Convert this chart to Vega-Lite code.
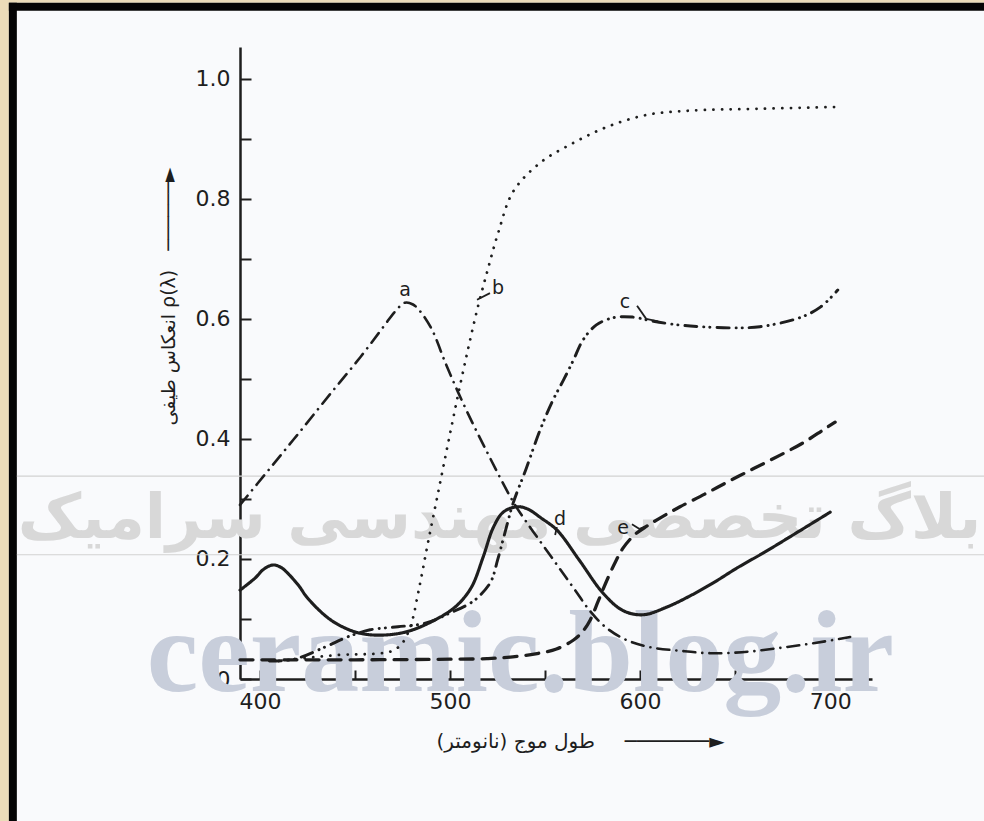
{
  "$schema": "https://vega.github.io/schema/vega-lite/v6.json",
  "width": 632,
  "height": 632,
  "autosize": "none",
  "padding": {"left": 240, "top": 47, "right": 112, "bottom": 142},
  "background": "#f9fafc",
  "config": {
    "view": {"stroke": null},
    "axis": {
      "grid": false,
      "domainColor": "#1e1e1e",
      "domainWidth": 2.5,
      "tickColor": "#1e1e1e",
      "tickWidth": 2,
      "labelColor": "#1e1e1e",
      "labelFont": "DejaVu Sans",
      "labelFontSize": 22,
      "labelFlush": false,
      "labelOverlap": false,
      "titleFont": "DejaVu Sans",
      "titleFontWeight": "normal",
      "titleColor": "#1e1e1e",
      "zindex": 1
    }
  },
  "datasets": {
    "curves": [
      {"curve": "a", "wavelength": 389.5, "reflectance": 0.29},
      {"curve": "a", "wavelength": 405, "reflectance": 0.35},
      {"curve": "a", "wavelength": 421, "reflectance": 0.412},
      {"curve": "a", "wavelength": 437, "reflectance": 0.475},
      {"curve": "a", "wavelength": 453, "reflectance": 0.537},
      {"curve": "a", "wavelength": 465, "reflectance": 0.587},
      {"curve": "a", "wavelength": 471, "reflectance": 0.612},
      {"curve": "a", "wavelength": 476.3, "reflectance": 0.627},
      {"curve": "a", "wavelength": 480.5, "reflectance": 0.624},
      {"curve": "a", "wavelength": 484.2, "reflectance": 0.613},
      {"curve": "a", "wavelength": 490.5, "reflectance": 0.582},
      {"curve": "a", "wavelength": 497.4, "reflectance": 0.528},
      {"curve": "a", "wavelength": 504.2, "reflectance": 0.478},
      {"curve": "a", "wavelength": 511.6, "reflectance": 0.428},
      {"curve": "a", "wavelength": 519.5, "reflectance": 0.378},
      {"curve": "a", "wavelength": 526.9, "reflectance": 0.332},
      {"curve": "a", "wavelength": 534.2, "reflectance": 0.29},
      {"curve": "a", "wavelength": 542.1, "reflectance": 0.253},
      {"curve": "a", "wavelength": 550, "reflectance": 0.218},
      {"curve": "a", "wavelength": 557.9, "reflectance": 0.183},
      {"curve": "a", "wavelength": 565.8, "reflectance": 0.148},
      {"curve": "a", "wavelength": 573.7, "reflectance": 0.113},
      {"curve": "a", "wavelength": 581.6, "reflectance": 0.087},
      {"curve": "a", "wavelength": 592.1, "reflectance": 0.066},
      {"curve": "a", "wavelength": 605.3, "reflectance": 0.053},
      {"curve": "a", "wavelength": 621, "reflectance": 0.047},
      {"curve": "a", "wavelength": 637, "reflectance": 0.043},
      {"curve": "a", "wavelength": 655, "reflectance": 0.045},
      {"curve": "a", "wavelength": 674, "reflectance": 0.052},
      {"curve": "a", "wavelength": 692, "reflectance": 0.06},
      {"curve": "a", "wavelength": 710.5, "reflectance": 0.07},

      {"curve": "b", "wavelength": 410, "reflectance": 0.03},
      {"curve": "b", "wavelength": 441, "reflectance": 0.04},
      {"curve": "b", "wavelength": 460, "reflectance": 0.042},
      {"curve": "b", "wavelength": 469, "reflectance": 0.046},
      {"curve": "b", "wavelength": 474.2, "reflectance": 0.057},
      {"curve": "b", "wavelength": 477.9, "reflectance": 0.077},
      {"curve": "b", "wavelength": 480.6, "reflectance": 0.103},
      {"curve": "b", "wavelength": 482.7, "reflectance": 0.135},
      {"curve": "b", "wavelength": 484.8, "reflectance": 0.168},
      {"curve": "b", "wavelength": 488.4, "reflectance": 0.227},
      {"curve": "b", "wavelength": 493.7, "reflectance": 0.31},
      {"curve": "b", "wavelength": 499, "reflectance": 0.393},
      {"curve": "b", "wavelength": 504.2, "reflectance": 0.473},
      {"curve": "b", "wavelength": 509.5, "reflectance": 0.55},
      {"curve": "b", "wavelength": 514.8, "reflectance": 0.622},
      {"curve": "b", "wavelength": 520.1, "reflectance": 0.685},
      {"curve": "b", "wavelength": 525.3, "reflectance": 0.743},
      {"curve": "b", "wavelength": 533.2, "reflectance": 0.812},
      {"curve": "b", "wavelength": 547.4, "reflectance": 0.86},
      {"curve": "b", "wavelength": 564.8, "reflectance": 0.893},
      {"curve": "b", "wavelength": 582.7, "reflectance": 0.92},
      {"curve": "b", "wavelength": 603.7, "reflectance": 0.94},
      {"curve": "b", "wavelength": 626.3, "reflectance": 0.947},
      {"curve": "b", "wavelength": 661.6, "reflectance": 0.95},
      {"curve": "b", "wavelength": 702.6, "reflectance": 0.953},

      {"curve": "c", "wavelength": 405, "reflectance": 0.03},
      {"curve": "c", "wavelength": 418, "reflectance": 0.033},
      {"curve": "c", "wavelength": 434, "reflectance": 0.053},
      {"curve": "c", "wavelength": 446, "reflectance": 0.07},
      {"curve": "c", "wavelength": 458, "reflectance": 0.082},
      {"curve": "c", "wavelength": 472.6, "reflectance": 0.087},
      {"curve": "c", "wavelength": 487, "reflectance": 0.093},
      {"curve": "c", "wavelength": 500, "reflectance": 0.11},
      {"curve": "c", "wavelength": 511, "reflectance": 0.127},
      {"curve": "c", "wavelength": 516, "reflectance": 0.14},
      {"curve": "c", "wavelength": 521.6, "reflectance": 0.163},
      {"curve": "c", "wavelength": 525, "reflectance": 0.198},
      {"curve": "c", "wavelength": 529, "reflectance": 0.245},
      {"curve": "c", "wavelength": 533.2, "reflectance": 0.293},
      {"curve": "c", "wavelength": 540, "reflectance": 0.35},
      {"curve": "c", "wavelength": 547.4, "reflectance": 0.415},
      {"curve": "c", "wavelength": 554.2, "reflectance": 0.465},
      {"curve": "c", "wavelength": 560, "reflectance": 0.5},
      {"curve": "c", "wavelength": 565, "reflectance": 0.532},
      {"curve": "c", "wavelength": 570, "reflectance": 0.565},
      {"curve": "c", "wavelength": 577, "reflectance": 0.59},
      {"curve": "c", "wavelength": 586, "reflectance": 0.602},
      {"curve": "c", "wavelength": 596, "reflectance": 0.603},
      {"curve": "c", "wavelength": 607, "reflectance": 0.596},
      {"curve": "c", "wavelength": 620, "reflectance": 0.59},
      {"curve": "c", "wavelength": 632, "reflectance": 0.587},
      {"curve": "c", "wavelength": 648, "reflectance": 0.585},
      {"curve": "c", "wavelength": 663, "reflectance": 0.587},
      {"curve": "c", "wavelength": 684, "reflectance": 0.602},
      {"curve": "c", "wavelength": 695, "reflectance": 0.62},
      {"curve": "c", "wavelength": 704, "reflectance": 0.648},

      {"curve": "d", "wavelength": 389.5, "reflectance": 0.148},
      {"curve": "d", "wavelength": 397.4, "reflectance": 0.168},
      {"curve": "d", "wavelength": 402, "reflectance": 0.183},
      {"curve": "d", "wavelength": 406.9, "reflectance": 0.19},
      {"curve": "d", "wavelength": 411, "reflectance": 0.186},
      {"curve": "d", "wavelength": 415, "reflectance": 0.175},
      {"curve": "d", "wavelength": 421, "reflectance": 0.153},
      {"curve": "d", "wavelength": 424, "reflectance": 0.139},
      {"curve": "d", "wavelength": 431, "reflectance": 0.115},
      {"curve": "d", "wavelength": 437.4, "reflectance": 0.098},
      {"curve": "d", "wavelength": 444, "reflectance": 0.086},
      {"curve": "d", "wavelength": 451.6, "reflectance": 0.077},
      {"curve": "d", "wavelength": 462.1, "reflectance": 0.073},
      {"curve": "d", "wavelength": 476.3, "reflectance": 0.078},
      {"curve": "d", "wavelength": 490, "reflectance": 0.095},
      {"curve": "d", "wavelength": 502.7, "reflectance": 0.12},
      {"curve": "d", "wavelength": 511.1, "reflectance": 0.152},
      {"curve": "d", "wavelength": 517.4, "reflectance": 0.203},
      {"curve": "d", "wavelength": 522.7, "reflectance": 0.252},
      {"curve": "d", "wavelength": 528, "reflectance": 0.278},
      {"curve": "d", "wavelength": 535.3, "reflectance": 0.287},
      {"curve": "d", "wavelength": 541, "reflectance": 0.283},
      {"curve": "d", "wavelength": 548, "reflectance": 0.268},
      {"curve": "d", "wavelength": 556.3, "reflectance": 0.248},
      {"curve": "d", "wavelength": 568, "reflectance": 0.198},
      {"curve": "d", "wavelength": 580.5, "reflectance": 0.143},
      {"curve": "d", "wavelength": 591, "reflectance": 0.114},
      {"curve": "d", "wavelength": 601.6, "reflectance": 0.107},
      {"curve": "d", "wavelength": 614.2, "reflectance": 0.12},
      {"curve": "d", "wavelength": 626, "reflectance": 0.138},
      {"curve": "d", "wavelength": 638.4, "reflectance": 0.16},
      {"curve": "d", "wavelength": 651, "reflectance": 0.185},
      {"curve": "d", "wavelength": 664.8, "reflectance": 0.21},
      {"curve": "d", "wavelength": 682, "reflectance": 0.243},
      {"curve": "d", "wavelength": 700, "reflectance": 0.278},

      {"curve": "e", "wavelength": 389.5, "reflectance": 0.032},
      {"curve": "e", "wavelength": 450, "reflectance": 0.032},
      {"curve": "e", "wavelength": 500, "reflectance": 0.033},
      {"curve": "e", "wavelength": 520, "reflectance": 0.034},
      {"curve": "e", "wavelength": 533, "reflectance": 0.037},
      {"curve": "e", "wavelength": 545, "reflectance": 0.042},
      {"curve": "e", "wavelength": 556, "reflectance": 0.05},
      {"curve": "e", "wavelength": 565, "reflectance": 0.065},
      {"curve": "e", "wavelength": 570, "reflectance": 0.08},
      {"curve": "e", "wavelength": 573.7, "reflectance": 0.098},
      {"curve": "e", "wavelength": 578, "reflectance": 0.13},
      {"curve": "e", "wavelength": 582.6, "reflectance": 0.165},
      {"curve": "e", "wavelength": 587, "reflectance": 0.195},
      {"curve": "e", "wavelength": 591, "reflectance": 0.218},
      {"curve": "e", "wavelength": 597, "reflectance": 0.24},
      {"curve": "e", "wavelength": 603.7, "reflectance": 0.255},
      {"curve": "e", "wavelength": 612, "reflectance": 0.271},
      {"curve": "e", "wavelength": 621, "reflectance": 0.287},
      {"curve": "e", "wavelength": 634, "reflectance": 0.308},
      {"curve": "e", "wavelength": 647, "reflectance": 0.33},
      {"curve": "e", "wavelength": 660, "reflectance": 0.351},
      {"curve": "e", "wavelength": 673.7, "reflectance": 0.373},
      {"curve": "e", "wavelength": 686, "reflectance": 0.394},
      {"curve": "e", "wavelength": 696.3, "reflectance": 0.415},
      {"curve": "e", "wavelength": 702.6, "reflectance": 0.428}
    ],
    "labels": [
      {"curve": "a", "wavelength": 476.3, "reflectance": 0.648},
      {"curve": "b", "wavelength": 525.3, "reflectance": 0.652},
      {"curve": "c", "wavelength": 592.1, "reflectance": 0.628},
      {"curve": "d", "wavelength": 557.9, "reflectance": 0.267},
      {"curve": "e", "wavelength": 591.1, "reflectance": 0.252}
    ],
    "leaders": [
      {"curve": "b", "wavelength": 514.2, "reflectance": 0.632, "wavelength2": 521, "reflectance2": 0.643},
      {"curve": "c", "wavelength": 598.4, "reflectance": 0.622, "wavelength2": 603.2, "reflectance2": 0.6},
      {"curve": "c", "wavelength": 603.2, "reflectance": 0.6, "wavelength2": 609.5, "reflectance2": 0.596},
      {"curve": "d", "wavelength": 556.2, "reflectance": 0.253, "wavelength2": 555.3, "reflectance2": 0.24},
      {"curve": "e", "wavelength": 595.7, "reflectance": 0.258, "wavelength2": 599.7, "reflectance2": 0.25},
      {"curve": "e", "wavelength": 599.7, "reflectance": 0.25, "wavelength2": 602.7, "reflectance2": 0.254}
    ]
  },
  "layer": [
    {
      "data": {"values": [{}]},
      "mark": {"type": "rect", "color": "#ebdcb9"},
      "encoding": {
        "x": {"datum": 250, "type": "quantitative"},
        "x2": {"datum": 267.9},
        "y": {"datum": -0.3, "type": "quantitative"},
        "y2": {"datum": 1.25}
      }
    },
    {
      "data": {"values": [{}]},
      "mark": {"type": "rect", "color": "#ebdcb9"},
      "encoding": {
        "x": {"datum": 250, "type": "quantitative"},
        "x2": {"datum": 800},
        "y": {"datum": 1.1267, "type": "quantitative"},
        "y2": {"datum": 1.25}
      }
    },
    {
      "data": {"values": [{}]},
      "mark": {"type": "rect", "color": "#050505"},
      "encoding": {
        "x": {"datum": 267.9, "type": "quantitative"},
        "x2": {"datum": 272.1},
        "y": {"datum": -0.3, "type": "quantitative"},
        "y2": {"datum": 1.1267}
      }
    },
    {
      "data": {"values": [{}]},
      "mark": {"type": "rect", "color": "#050505"},
      "encoding": {
        "x": {"datum": 267.9, "type": "quantitative"},
        "x2": {"datum": 800},
        "y": {"datum": 1.1133, "type": "quantitative"},
        "y2": {"datum": 1.1267}
      }
    },
    {
      "data": {"values": [{}]},
      "mark": {"type": "rule", "color": "#d2d2d2", "strokeWidth": 1.2},
      "encoding": {
        "x": {"datum": 272.1, "type": "quantitative"},
        "x2": {"datum": 800},
        "y": {"datum": 0.338, "type": "quantitative"}
      }
    },
    {
      "data": {"values": [{}]},
      "mark": {"type": "rule", "color": "#d2d2d2", "strokeWidth": 1.2},
      "encoding": {
        "x": {"datum": 272.1, "type": "quantitative"},
        "x2": {"datum": 800},
        "y": {"datum": 0.207, "type": "quantitative"}
      }
    },
    {
      "data": {"values": [{}]},
      "mark": {"type": "text", "text": "بلاگ تخصصی مهندسی سرامیک", "font": "DejaVu Sans", "fontWeight": "bold", "fontSize": 62, "color": "#d8d8d8", "align": "center", "baseline": "alphabetic"},
      "encoding": {
        "x": {"datum": 526, "type": "quantitative"},
        "y": {"datum": 0.235, "type": "quantitative"}
      }
    },
    {
      "data": {"values": [{}]},
      "mark": {"type": "text", "text": "ceramic.blog.ir", "font": "Liberation Serif", "fontWeight": "bold", "fontSize": 116, "color": "#c8cedb", "align": "center", "baseline": "alphabetic"},
      "encoding": {
        "x": {"datum": 537, "type": "quantitative"},
        "y": {"datum": -0.02, "type": "quantitative"}
      }
    },
    {
      "data": {"name": "curves"},
      "mark": {"type": "line", "color": "#1e1e1e", "interpolate": "catmull-rom", "strokeCap": "round"},
      "encoding": {
        "x": {
          "field": "wavelength",
          "type": "quantitative",
          "scale": {"domain": [389.5, 722], "nice": false, "zero": false},
          "axis": {
            "values": [400, 450, 500, 550, 600, 650, 700],
            "labelExpr": "datum.value % 100 == 0 ? datum.label : ''",
            "tickSize": -9,
            "labelPadding": 21,
            "title": "طول موج (نانومتر)\u200f\u2003\u2002───────►",
            "titleFontSize": 20,
            "titleX": 340,
            "titleY": 62,
            "titleAlign": "center",
            "titleBaseline": "middle"
          }
        },
        "y": {
          "field": "reflectance",
          "type": "quantitative",
          "scale": {"domain": [0, 1.053], "nice": false, "zero": false},
          "axis": {
            "values": [0, 0.1, 0.2, 0.3, 0.4, 0.5, 0.6, 0.7, 0.8, 0.9, 1.0],
            "labelExpr": "datum.value == 0 ? '0' : (round(datum.value * 10) % 2 == 0 ? format(datum.value, '.1f') : '')",
            "tickSize": -11,
            "labelPadding": 21,
            "title": "انعکاس طیفی ρ(λ)\u2003──────►",
            "titleFontSize": 19,
            "titleAngle": 270,
            "titleX": -72,
            "titleY": 249,
            "titleAlign": "center",
            "titleBaseline": "middle"
          }
        },
        "strokeDash": {
          "field": "curve",
          "type": "nominal",
          "scale": {"domain": ["a", "b", "c", "d", "e"], "range": [[12, 7, 0.1, 7], [0.1, 8.5], [12, 7, 0.1, 6, 0.1, 7], [1, 0], [13, 9]]},
          "legend": null
        },
        "strokeWidth": {
          "field": "curve",
          "type": "nominal",
          "scale": {"domain": ["a", "b", "c", "d", "e"], "range": [2.6, 3.3, 2.6, 2.6, 2.6]},
          "legend": null
        }
      }
    },
    {
      "data": {"name": "leaders"},
      "mark": {"type": "rule", "color": "#1e1e1e", "strokeWidth": 1.8},
      "encoding": {
        "x": {"field": "wavelength", "type": "quantitative"},
        "x2": {"field": "wavelength2"},
        "y": {"field": "reflectance", "type": "quantitative"},
        "y2": {"field": "reflectance2"}
      }
    },
    {
      "data": {"name": "labels"},
      "mark": {"type": "text", "font": "DejaVu Sans", "fontSize": 19, "color": "#1e1e1e", "align": "center", "baseline": "middle"},
      "encoding": {
        "x": {"field": "wavelength", "type": "quantitative"},
        "y": {"field": "reflectance", "type": "quantitative"},
        "text": {"field": "curve"}
      }
    }
  ]
}
